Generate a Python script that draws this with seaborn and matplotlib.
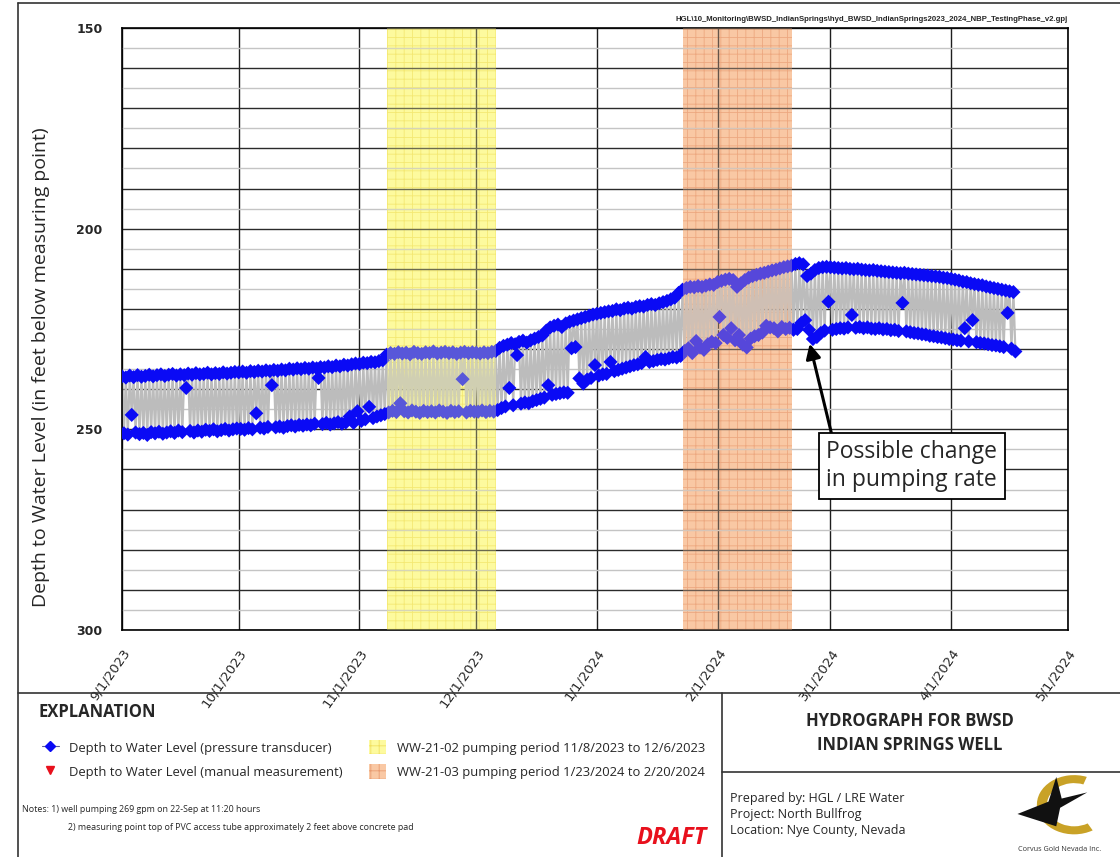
import numpy as np
import pandas as pd
import matplotlib
matplotlib.use("Agg")
import matplotlib.pyplot as plt
import matplotlib.dates as mdates
import matplotlib.patches as mpatches
from matplotlib.lines import Line2D
from matplotlib.ticker import MultipleLocator, FuncFormatter
import seaborn as sns

# daily readings from 9/1/2023, static (pump off) and pumping levels, ft below MP
start_date = "2023-09-01"
static_level = [
    # Sep
    236.8, 237.1, 236.6, 237.0, 236.5, 236.9, 236.7, 236.4, 236.8, 236.5,
    236.3, 236.7, 236.4, 236.2, 236.6, 236.3, 236.5, 236.1, 236.4, 236.0,
    236.3, 236.2, 235.9, 236.3, 236.0, 236.2, 235.8, 236.1, 235.9, 235.7,
    # Oct
    235.8, 235.6, 235.9, 235.5, 235.7, 235.4, 235.6, 235.3, 235.5, 235.2,
    235.4, 235.1, 235.3, 234.9, 235.1, 234.8, 235.0, 234.7, 234.9, 234.6,
    234.8, 234.5, 234.6, 234.3, 234.5, 234.1, 234.3, 233.9, 234.1, 233.8, 233.6,
    # Nov
    233.7, 233.4, 233.5, 233.2, 233.3, 233.0, 232.8, 231.4, 231.0, 231.2,
    230.8, 231.1, 230.9, 231.3, 230.7, 231.0, 231.2, 230.8, 231.0, 230.6,
    231.1, 230.9, 230.7, 231.0, 230.8, 231.2, 230.9, 230.7, 231.0, 230.8,
    # Dec
    230.9, 231.1, 230.8, 231.0, 230.7, 230.5, 229.7, 229.2, 228.9, 228.5,
    228.8, 228.2, 227.9, 228.4, 227.8, 227.4, 227.0, 226.6, 225.4, 224.6,
    224.2, 223.9, 224.5, 223.6, 223.2, 222.9, 222.6, 222.3, 222.0, 221.7, 221.4,
    # Jan
    221.2, 221.0, 220.8, 220.6, 220.5, 220.1, 220.3, 219.9, 219.7, 219.9,
    219.5, 219.3, 219.4, 219.0, 218.8, 219.0, 218.6, 218.3, 218.0, 217.6,
    217.2, 216.0, 215.2, 214.8, 214.5, 214.6, 214.3, 214.5, 214.2, 213.9, 214.0,
    # Feb
    213.3, 213.0, 212.7, 212.5, 212.8, 214.5, 213.6, 212.8, 212.2, 211.8,
    211.5, 211.2, 211.0, 210.7, 210.4, 210.2, 209.9, 209.6, 209.4, 209.2,
    208.8, 208.6, 208.9, 211.8, 211.2, 210.3, 209.8, 209.6, 209.5,
    # Mar
    209.6, 209.7, 209.8, 209.9, 209.8, 210.0, 210.1, 210.0, 210.2, 210.3,
    210.4, 210.3, 210.5, 210.6, 210.7, 210.8, 210.9, 211.0, 211.1, 211.0,
    211.2, 211.3, 211.4, 211.5, 211.6, 211.7, 211.8, 211.9, 212.0, 212.2, 212.3,
    # Apr
    212.5, 212.7, 212.9, 213.2, 213.3, 213.6, 213.8, 214.0, 214.1, 214.4,
    214.6, 214.8, 215.0, 215.2, 215.4, 215.6, 215.8,
]
pumping_level = [
    # Sep
    251.0, 251.3, 246.4, 250.8, 251.2, 250.9, 251.4, 250.7, 251.0, 250.6,
    251.1, 250.8, 250.5, 250.9, 250.3, 250.7, 239.7, 250.4, 250.8, 250.3,
    250.6, 250.1, 250.4, 250.0, 250.5, 250.2, 249.9, 250.3, 250.0, 249.8,
    # Oct
    249.9, 250.1, 249.7, 250.0, 246.0, 249.6, 249.8, 249.4, 239.0, 249.5,
    249.3, 249.6, 249.2, 249.0, 249.3, 248.9, 249.1, 248.8, 249.0, 248.6,
    237.2, 248.7, 248.4, 248.8, 248.5, 248.2, 248.6, 248.3, 246.8, 248.4, 245.5,
    # Nov
    247.9, 247.5, 244.4, 247.2, 246.8, 246.5, 246.2, 245.8, 245.4, 245.7,
    243.5, 245.5, 245.8, 245.3, 245.6, 245.9, 245.4, 245.7, 245.5, 245.8,
    245.3, 245.6, 245.9, 245.4, 245.7, 245.5, 237.5, 245.8, 245.4, 245.6,
    # Dec
    245.6, 245.3, 245.7, 245.4, 245.6, 245.2, 244.7, 244.3, 239.7, 244.0,
    231.5, 243.6, 243.3, 243.5, 243.0, 242.7, 242.4, 242.1, 239.0, 241.4,
    241.2, 241.0, 240.8, 240.9, 229.8, 229.5, 237.3, 238.6, 237.6, 237.2, 234.0,
    # Jan
    236.6, 236.3, 236.2, 233.2, 235.5, 235.2, 234.9, 234.6, 234.3, 234.0,
    233.8, 233.5, 232.0, 233.2, 233.0, 232.7, 232.5, 232.6, 232.3, 232.0,
    232.1, 231.7, 230.5, 229.8, 231.0, 228.0, 229.6, 230.2, 228.8, 228.2, 228.5,
    # Feb
    222.0, 226.5, 227.2, 224.8, 227.8, 226.5, 228.9, 229.6, 227.4, 226.8,
    226.5, 225.9, 224.2, 224.6, 224.8, 225.6, 224.5, 225.0, 224.7, 225.2,
    225.0, 223.5, 222.8, 225.2, 227.5, 227.0, 226.0, 225.4, 218.2,
    # Mar
    225.2, 225.0, 224.8, 224.9, 224.6, 221.5, 224.7, 224.5, 224.8, 224.6,
    224.9, 225.0, 224.8, 225.1, 225.0, 225.3, 225.2, 225.5, 218.5, 225.6,
    225.8, 226.0, 226.1, 226.3, 226.4, 226.7, 226.8, 227.0, 227.1, 227.3, 227.5,
    # Apr
    227.6, 227.8, 227.9, 224.8, 228.1, 222.8, 228.3, 228.5, 228.6, 228.8,
    229.0, 229.1, 229.3, 229.5, 221.0, 229.9, 230.6,
]

pumping_periods = [
    ("2023-11-08", "2023-12-06", "#fdfa9e", "#f0e060",
     "WW-21-02 pumping period 11/8/2023 to 12/6/2023"),
    ("2024-01-23", "2024-02-20", "#f9c8a4", "#e89a70",
     "WW-21-03 pumping period 1/23/2024 to 2/20/2024"),
]

path_label = r"HGL\10_Monitoring\BWSD_IndianSprings\hyd_BWSD_IndianSprings2023_2024_NBP_TestingPhase_v2.gpj"

sns.set_style("white")
plt.rcParams["font.family"] = ["Open Sans", "DejaVu Sans"]
plt.rcParams["hatch.linewidth"] = 0.6

days = pd.date_range(start_date, periods=len(static_level), freq="D")
rows = []
for d, s, p in zip(days, static_level, pumping_level):
    rows.append({"time": d, "depth": s})
    rows.append({"time": d + pd.Timedelta(hours=12), "depth": p})
df = pd.DataFrame(rows)

fig = plt.figure(figsize=(11.2, 8.57), dpi=100)
ax = fig.add_axes([0.1089, 0.2649, 0.8446, 0.7024])

for s, e, c, hc, _ in pumping_periods:
    ax.axvspan(pd.Timestamp(s), pd.Timestamp(e), facecolor=c, edgecolor=hc,
               hatch="++", lw=0, zorder=0.3)

sns.lineplot(data=df, x="time", y="depth", ax=ax, color="#bcbcbc", lw=1.6,
             sort=False, estimator=None, zorder=2)
sns.scatterplot(data=df, x="time", y="depth", ax=ax, marker="D", s=52,
                color="#0a0af5", edgecolor="none", linewidth=0, zorder=3)

for s, e, c, hc, _ in pumping_periods:
    ax.axvspan(pd.Timestamp(s), pd.Timestamp(e), facecolor=c, alpha=0.32,
               lw=0, zorder=4)

ax.set_xlim(pd.Timestamp("2023-09-01"), pd.Timestamp("2024-05-01"))
ax.set_ylim(300, 150)
ax.xaxis.set_major_locator(mdates.MonthLocator())
ax.xaxis.set_major_formatter(FuncFormatter(
    lambda v, pos: (lambda d: f"{d.month}/{d.day}/{d.year}")(mdates.num2date(v))))
ax.yaxis.set_major_locator(MultipleLocator(10))
ax.yaxis.set_minor_locator(MultipleLocator(5))
ax.yaxis.set_major_formatter(FuncFormatter(
    lambda v, pos: f"{int(v)}" if int(round(v)) % 50 == 0 else ""))

ax.set_axisbelow(True)
ax.grid(axis="x", which="major", color="#1e1e1e", lw=1.0)
ax.grid(axis="y", which="major", color="#2a2a2a", lw=1.0)
ax.grid(axis="y", which="minor", color="#c4c4c4", lw=1.0)
for sp in ax.spines.values():
    sp.set_color("black")
    sp.set_linewidth(1.2)

ax.tick_params(axis="x", direction="out", length=10, width=1, color="black",
               labelsize=9.5, pad=2)
ax.tick_params(axis="y", which="major", direction="out", length=8, width=1,
               color="black", labelsize=9, pad=6)
ax.tick_params(axis="y", which="minor", direction="out", length=5, width=1,
               color="black")
for lab in ax.get_xticklabels():
    lab.set_rotation(55)
    lab.set_ha("right")
    lab.set_rotation_mode("anchor")
    lab.set_family("DejaVu Sans")
for lab in ax.get_yticklabels():
    lab.set_family("DejaVu Sans")
    lab.set_fontweight("bold")

ax.set_xlabel("")
ax.set_ylabel("Depth to Water Level (in feet below measuring point)",
              fontsize=14)
ax.yaxis.set_label_coords(-0.076, 0.437)

ax.annotate("Possible change\nin pumping rate",
            xy=(pd.Timestamp("2024-02-24 12:00"), 228.0),
            xytext=(0.835, 0.272), textcoords="axes fraction",
            ha="center", va="center", fontsize=16.5, zorder=6,
            bbox=dict(boxstyle="square,pad=0.32", fc="white", ec="black", lw=1.3),
            arrowprops=dict(arrowstyle="-|>", color="black", lw=2.2,
                            mutation_scale=22, relpos=(0.04, 1.0),
                            shrinkA=0, shrinkB=2))

fig.text(0.9536, 0.977, path_label, ha="right", va="center", fontsize=5.6,
         family="Liberation Sans", fontweight="bold")

# page frame lines
for xs, ys in [((0.016, 1.0), (0.9965, 0.9965)), ((0.016, 0.016), (0.0, 0.9965)),
               ((0.016, 1.0), (0.1914, 0.1914)), ((0.6446, 0.6446), (0.0, 0.1914)),
               ((0.6446, 1.0), (0.0992, 0.0992))]:
    fig.add_artist(Line2D(xs, ys, color="#333333", lw=1.2, transform=fig.transFigure))

fig.text(0.034, 0.169, "EXPLANATION", fontsize=12, fontweight="bold", va="center")

handles = [
    Line2D([0], [0], color="#5a5a9a", lw=0.8, marker="D", markersize=5,
           markerfacecolor="#0a0af5", markeredgecolor="#0a0af5"),
    Line2D([0], [0], color="none", marker="v", markersize=6,
           markerfacecolor="#e8101c", markeredgecolor="#e8101c"),
]
labels = ["Depth to Water Level (pressure transducer)",
          "Depth to Water Level (manual measurement)"]
for s, e, c, hc, lab in pumping_periods:
    handles.append(mpatches.Patch(facecolor=c, edgecolor=hc, hatch="++", lw=0))
    labels.append(lab)
fig.legend(handles, labels, ncol=2, loc="upper left",
           bbox_to_anchor=(0.027, 0.150), frameon=False, fontsize=9.4,
           handlelength=1.3, handleheight=1.3, columnspacing=2.0,
           labelspacing=0.75, handletextpad=0.8)

fig.text(0.020, 0.055, "Notes: 1) well pumping 269 gpm on 22-Sep at 11:20 hours",
         fontsize=6.4, va="center")
fig.text(0.061, 0.034, "2) measuring point top of PVC access tube approximately "
         "2 feet above concrete pad", fontsize=6.4, va="center")
fig.text(0.600, 0.022, "DRAFT", color="#e8101c", fontsize=17,
         fontweight="bold", style="italic", ha="center", va="center")

fig.text(0.8125, 0.1447, "HYDROGRAPH FOR BWSD\nINDIAN SPRINGS WELL", fontsize=12,
         fontweight="bold", ha="center", va="center", linespacing=1.4)
fig.text(0.652, 0.050, "Prepared by: HGL / LRE Water\nProject: North Bullfrog\n"
         "Location: Nye County, Nevada", fontsize=9, va="center", linespacing=1.3)

# logo
lax = fig.add_axes([0.905, 0.025, 0.09, 0.072])
lax.set_xlim(0, 1.3)
lax.set_ylim(0, 1)
lax.axis("off")
lax.add_patch(mpatches.Wedge((0.78, 0.5), 0.48, 70, 300, width=0.13,
                             facecolor="#c9a227", edgecolor="none"))
lax.add_patch(mpatches.Polygon([(0.05, 0.35), (0.45, 0.55), (0.55, 0.95),
                                (0.62, 0.6), (0.95, 0.7), (0.6, 0.45),
                                (0.55, 0.15)], closed=True,
                               facecolor="#111111", edgecolor="none"))
fig.text(0.946, 0.009, "Corvus Gold Nevada Inc.", fontsize=5.2, ha="center",
         va="center", color="#333333")

fig.savefig("out.png", dpi=100, facecolor="white")
